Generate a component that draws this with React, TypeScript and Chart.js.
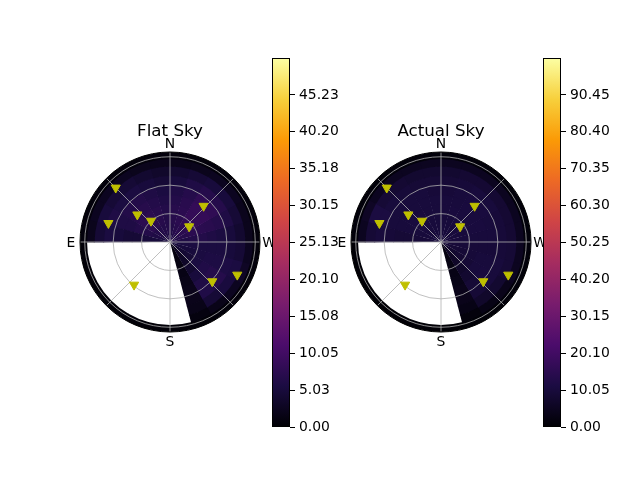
import React, { useEffect, useRef } from 'react';
import { Chart, registerables } from 'chart.js';

Chart.register(...registerables);
Chart.defaults.font.family = 'DejaVu Sans';

// ---------- data ----------
const STAR_AZ = [45, 50, 42, 73, 309, 317, 140, 227, 244];
const STAR_ZEN = [81, 45, 30, 68, 26, 52, 59, 61, 79];

const AZ_EDGES = [0, 15, 30, 45, 60, 75, 90, 105, 120, 135, 150, 165, 180, 195, 210, 225, 240, 255, 270, 285, 300, 315, 330, 345, 360];
const ZEN_EDGES = [0, 10, 20, 30, 40, 50, 60, 70, 80, 88, 95];
const R_MAX = 95;
const RING_TICKS = [30, 60, 90];
const SPOKES = [0, 45, 90, 135, 180, 225, 270, 315];
const DIR_LABELS = ['N', 'E', 'S', 'W'];
const DIR_AZ = [0, 90, 180, 270];

const FLAT_TITLE = 'Flat Sky';
const ACTUAL_TITLE = 'Actual Sky';

const FLAT_MAX = 50.25;
const FLAT_TICKS = [0, 5.025, 10.05, 15.075, 20.1, 25.125, 30.15, 35.175, 40.2, 45.225];
const FLAT_TICK_LABELS = ['0.00', '5.03', '10.05', '15.08', '20.10', '25.13', '30.15', '35.18', '40.20', '45.23'];

const ACTUAL_MAX = 100.5;
const ACTUAL_TICKS = [0, 10.05, 20.1, 30.15, 40.2, 50.25, 60.3, 70.35, 80.4, 90.45];
const ACTUAL_TICK_LABELS = ['0.00', '10.05', '20.10', '30.15', '40.20', '50.25', '60.30', '70.35', '80.40', '90.45'];

const N = null;
const MASKED: (number | null)[] = [N, N, N, N, N, N, N, N, N, 0.4];

// rows: azimuth bins (AZ_EDGES), columns: zenith rings (ZEN_EDGES)
const FLAT_SKY: (number | null)[][] = [
  [6, 6.5, 6.5, 6.5, 6, 5.5, 4.5, 3.5, 2, 0.6],
  [6, 6.5, 7, 7, 6.5, 6, 5, 4, 2.2, 0.6],
  [6, 6.5, 7.5, 7.5, 7, 6.5, 5.5, 4.5, 2.5, 0.6],
  [6, 6.5, 7.5, 7.5, 7, 6.5, 5.5, 4.5, 2.5, 0.6],
  [5.5, 6, 6.5, 6.5, 6, 6, 6, 5, 2.5, 0.6],
  [5, 5, 5, 4.5, 4.5, 5, 5.5, 4.5, 2.2, 0.6],
  MASKED, MASKED, MASKED, MASKED, MASKED, MASKED, MASKED,
  [1, 1, 1.2, 1.5, 1.8, 2, 2, 1.8, 1, 0.4],
  [2.5, 2.8, 3.2, 4, 5, 6, 6.2, 4.5, 1.8, 0.5],
  [4, 4.2, 4.5, 5.5, 6.2, 6.8, 6.8, 5.2, 2.5, 0.6],
  [5, 5, 5, 5.5, 5.8, 5.8, 5.8, 5.5, 3, 0.6],
  [5.5, 5.5, 5.5, 5.5, 5.5, 5.5, 5, 4.5, 2.5, 0.6],
  [6, 6, 6.5, 6.5, 6, 5.5, 5, 4, 2.2, 0.6],
  [6.5, 7, 7.5, 7.5, 7.2, 6.8, 6, 4.5, 2.2, 0.6],
  [6.5, 7.5, 8, 8.5, 8.5, 8, 6.8, 5, 2.5, 0.6],
  [6.5, 7.5, 8, 8.5, 8.5, 8, 6.8, 5, 2.5, 0.6],
  [6.5, 7, 7.5, 7.5, 7.2, 6.8, 6, 4.5, 2.2, 0.6],
  [6, 6.5, 7, 7, 6.5, 6, 5, 4, 2, 0.6],
];

const ACTUAL_SKY: (number | null)[][] = [
  [10, 10, 10, 10, 10, 9.5, 9, 8, 5, 1],
  [10, 10, 10, 10, 10, 10, 9, 8, 5, 1],
  [10, 10, 10.5, 10.5, 10, 10, 9.5, 8.5, 5, 1],
  [10, 10, 10.5, 10.5, 10, 10, 10, 9, 5, 1],
  [10, 10, 10, 10, 10, 10, 11, 11, 6, 1],
  [9.5, 9.5, 9.5, 9, 9, 9.5, 10, 9, 5, 1],
  MASKED, MASKED, MASKED, MASKED, MASKED, MASKED, MASKED,
  [2, 2, 2.5, 3, 3.5, 4, 4, 3, 1.5, 0.5],
  [5.5, 6, 6.5, 7, 8, 9, 9, 7, 3, 0.8],
  [8, 8, 8.5, 9, 10, 10.5, 10, 8, 4, 1],
  [9, 9, 9, 9.5, 10, 10, 10, 9, 5, 1],
  [9.5, 9.5, 9.5, 9.5, 9.5, 9.5, 9.5, 9, 5, 1],
  [10, 10, 10, 10, 10, 10, 9.5, 8.5, 5, 1],
  [10, 10, 10, 10.5, 10.5, 10, 9.5, 8.5, 5, 1],
  [10, 10, 10.5, 10.5, 10.5, 10.5, 10, 8.5, 5, 1],
  [10, 10, 10.5, 10.5, 10.5, 10.5, 10, 8.5, 5, 1],
  [10, 10, 10, 10.5, 10, 10, 9.5, 8.5, 5, 1],
  [10, 10, 10, 10, 10, 9.5, 9, 8, 5, 1],
];

// inferno colormap stops (evenly spaced)
const INFERNO = ['#000004', '#1B0C42', '#4B0C6B', '#781C6D', '#A52C60', '#CF4446', '#ED6925', '#FB9A06', '#F7D03C', '#FCFFA4'];

const MARKER_COLOR = '#bfbf00';
const GRID_COLOR = '#b0b0b0';

// ---------- helpers ----------
function hexToRgb(h: string) {
  const n = parseInt(h.slice(1), 16);
  return [(n >> 16) & 255, (n >> 8) & 255, n & 255];
}
const INFERNO_RGB = INFERNO.map(hexToRgb);

function colorFor(v: number, vmax: number) {
  const t = Math.max(0, Math.min(1, v / vmax));
  const f = t * (INFERNO_RGB.length - 1);
  const i = Math.min(INFERNO_RGB.length - 2, Math.floor(f));
  const u = f - i;
  const a = INFERNO_RGB[i];
  const b = INFERNO_RGB[i + 1];
  const c = a.map((x, k) => Math.round(x + (b[k] - x) * u));
  return `rgb(${c[0]},${c[1]},${c[2]})`;
}

const toRad = (d: number) => (d * Math.PI) / 180;
// azimuth measured from North, counter-clockwise (E on the left)
const canvasAngle = (az: number) => -Math.PI / 2 - toRad(az);

// ---------- polar panel ----------
const PANEL_SIZE = 240;
const PANEL_PAD = 30;

function PolarPanel({ title, grid, vmax, cx, cy }: { title: string; grid: (number | null)[][]; vmax: number; cx: number; cy: number }) {
  const ref = useRef<HTMLCanvasElement | null>(null);
  useEffect(() => {
    if (!ref.current) return;
    const skyPlugin = {
      id: 'skyMap',
      beforeDatasetsDraw(chart: any) {
        const ctx = chart.ctx as CanvasRenderingContext2D;
        const xs = chart.scales.x;
        const ys = chart.scales.y;
        const ox = xs.getPixelForValue(0);
        const oy = ys.getPixelForValue(0);
        const rpx = (z: number) => xs.getPixelForValue(z) - ox;
        const eps = 0.006;
        ctx.save();
        // heat cells
        for (let i = 0; i < AZ_EDGES.length - 1; i++) {
          const t1 = canvasAngle(AZ_EDGES[i]) + eps;
          const t2 = canvasAngle(AZ_EDGES[i + 1]) - eps;
          for (let j = 0; j < ZEN_EDGES.length - 1; j++) {
            const v = grid[i][j];
            if (v === null || v === undefined) continue;
            const r1 = Math.max(0, rpx(ZEN_EDGES[j]) - 0.4);
            const r2 = rpx(ZEN_EDGES[j + 1]) + (j === ZEN_EDGES.length - 2 ? 0 : 0.4);
            ctx.beginPath();
            ctx.arc(ox, oy, r2, t1, t2, true);
            ctx.arc(ox, oy, r1, t2, t1, false);
            ctx.closePath();
            ctx.fillStyle = colorFor(v, vmax);
            ctx.fill();
          }
        }
        // grid circles
        ctx.strokeStyle = GRID_COLOR;
        ctx.lineWidth = 0.8;
        RING_TICKS.forEach((z) => {
          ctx.beginPath();
          ctx.arc(ox, oy, rpx(z), 0, Math.PI * 2);
          ctx.stroke();
        });
        // spokes
        const rm = rpx(R_MAX);
        SPOKES.forEach((az) => {
          const a = canvasAngle(az);
          ctx.beginPath();
          ctx.moveTo(ox, oy);
          ctx.lineTo(ox + rm * Math.cos(a), oy + rm * Math.sin(a));
          ctx.stroke();
        });
        // spine
        ctx.strokeStyle = '#000';
        ctx.lineWidth = 1;
        ctx.beginPath();
        ctx.arc(ox, oy, rm, 0, Math.PI * 2);
        ctx.stroke();
        ctx.restore();
      },
      afterDraw(chart: any) {
        const ctx = chart.ctx as CanvasRenderingContext2D;
        const xs = chart.scales.x;
        const ys = chart.scales.y;
        const ox = xs.getPixelForValue(0);
        const oy = ys.getPixelForValue(0);
        const rm = xs.getPixelForValue(R_MAX) - ox;
        ctx.save();
        ctx.fillStyle = '#000';
        ctx.font = '13.9px "DejaVu Sans"';
        ctx.textAlign = 'center';
        ctx.textBaseline = 'alphabetic';
        DIR_LABELS.forEach((lab, k) => {
          const a = canvasAngle(DIR_AZ[k]);
          const r = rm + 9;
          ctx.fillText(lab, ox + r * Math.cos(a), oy + r * Math.sin(a) + 5);
        });
        ctx.font = '16.7px "DejaVu Sans"';
        ctx.fillText(title, ox, oy - rm - 16);
        ctx.restore();
      },
    };
    const chart = new Chart(ref.current, {
      type: 'scatter',
      data: {
        datasets: [
          {
            data: STAR_AZ.map((az, k) => ({ x: -STAR_ZEN[k] * Math.sin(toRad(az)), y: STAR_ZEN[k] * Math.cos(toRad(az)) })),
            pointStyle: 'triangle',
            rotation: 180,
            radius: 5.3,
            backgroundColor: MARKER_COLOR,
            borderColor: MARKER_COLOR,
            borderWidth: 1,
          } as any,
        ],
      },
      options: {
        animation: false,
        responsive: false,
        devicePixelRatio: 1,
        layout: { padding: PANEL_PAD },
        scales: {
          x: { type: 'linear', min: -R_MAX, max: R_MAX, display: false },
          y: { type: 'linear', min: -R_MAX, max: R_MAX, display: false },
        },
        plugins: { legend: { display: false }, tooltip: { enabled: false } },
      },
      plugins: [skyPlugin],
    });
    return () => chart.destroy();
  }, [title, grid, vmax]);
  return (
    <canvas
      ref={ref}
      width={PANEL_SIZE}
      height={PANEL_SIZE}
      style={{ position: 'absolute', left: cx - PANEL_SIZE / 2, top: cy - PANEL_SIZE / 2, width: PANEL_SIZE, height: PANEL_SIZE }}
    />
  );
}

// ---------- colorbar ----------
const CB_TOP = 38;
const CB_HEIGHT = 410;
const CB_WIDTH = 90;
const CB_BAR = 18;

function ColorBar({ vmax, ticks, labels, left }: { vmax: number; ticks: number[]; labels: string[]; left: number }) {
  const ref = useRef<HTMLCanvasElement | null>(null);
  useEffect(() => {
    if (!ref.current) return;
    const barPlugin = {
      id: 'cbar',
      beforeDatasetsDraw(chart: any) {
        const ctx = chart.ctx as CanvasRenderingContext2D;
        const a = chart.chartArea;
        const ys = chart.scales.y;
        const g = ctx.createLinearGradient(0, ys.getPixelForValue(0), 0, ys.getPixelForValue(vmax));
        INFERNO.forEach((c, k) => g.addColorStop(k / (INFERNO.length - 1), c));
        ctx.save();
        ctx.fillStyle = g;
        ctx.fillRect(a.left, a.top, a.right - a.left, a.bottom - a.top);
        ctx.restore();
      },
      afterDraw(chart: any) {
        const ctx = chart.ctx as CanvasRenderingContext2D;
        const a = chart.chartArea;
        ctx.save();
        ctx.strokeStyle = '#000';
        ctx.lineWidth = 1;
        ctx.strokeRect(a.left + 0.5, a.top + 0.5, a.right - a.left - 1, a.bottom - a.top - 1);
        ctx.restore();
      },
    };
    const chart = new Chart(ref.current, {
      type: 'scatter',
      data: { datasets: [] },
      options: {
        animation: false,
        responsive: false,
        devicePixelRatio: 1,
        layout: { padding: { top: 20, bottom: 21, left: 0, right: 0 } },
        scales: {
          x: { type: 'linear', min: 0, max: 1, display: false },
          y: {
            type: 'linear',
            position: 'right',
            min: 0,
            max: vmax,
            afterBuildTicks: (s: any) => {
              s.ticks = ticks.map((v) => ({ value: v }));
            },
            afterFit: (s: any) => {
              s.width = CB_WIDTH - CB_BAR;
            },
            ticks: {
              autoSkip: false,
              color: '#000',
              padding: 4,
              font: { size: 13.9, family: 'DejaVu Sans' },
              callback: (_v: any, i: number) => labels[i],
            },
            grid: { drawOnChartArea: false, drawTicks: true, tickLength: 5, color: '#000', lineWidth: 1 },
            border: { display: false },
          },
        },
        plugins: { legend: { display: false }, tooltip: { enabled: false } },
      },
      plugins: [barPlugin],
    });
    return () => chart.destroy();
  }, [vmax, ticks, labels]);
  return (
    <canvas
      ref={ref}
      width={CB_WIDTH}
      height={CB_HEIGHT}
      style={{ position: 'absolute', left, top: CB_TOP, width: CB_WIDTH, height: CB_HEIGHT }}
    />
  );
}

export default function App() {
  return (
    <div style={{ position: 'fixed', left: 0, top: 0, width: 640, height: 480, background: '#fff', overflow: 'hidden' }}>
      <PolarPanel title={FLAT_TITLE} grid={FLAT_SKY} vmax={FLAT_MAX} cx={170} cy={242} />
      <ColorBar vmax={FLAT_MAX} ticks={FLAT_TICKS} labels={FLAT_TICK_LABELS} left={272} />
      <PolarPanel title={ACTUAL_TITLE} grid={ACTUAL_SKY} vmax={ACTUAL_MAX} cx={441} cy={242} />
      <ColorBar vmax={ACTUAL_MAX} ticks={ACTUAL_TICKS} labels={ACTUAL_TICK_LABELS} left={543} />
    </div>
  );
}
